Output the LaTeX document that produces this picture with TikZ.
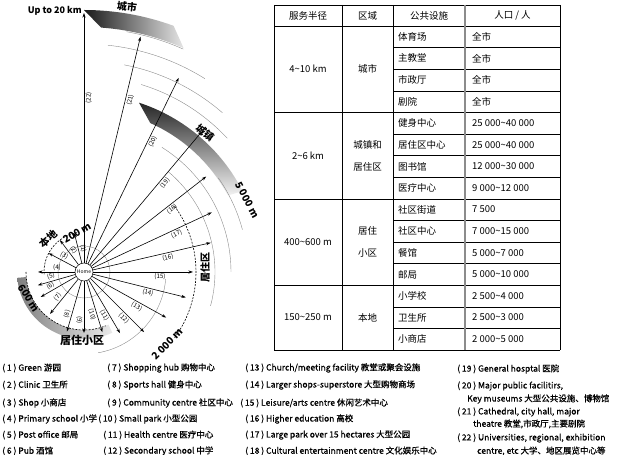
\documentclass[tikz,border=0pt]{standalone}
\usepackage{fontspec}
\setmainfont{Noto Sans CJK SC}
\newfontfamily\legendfont[FakeBold=0.7]{Noto Sans CJK SC}
\usetikzlibrary{arrows.meta,calc}

\tikzset{
  ray/.style={-{Stealth[length=4.5pt,width=3pt]},line width=0.6pt},
  raynum/.style={font=\fontsize{6.2}{7}\selectfont,inner sep=0pt},
  faint/.style={black!45,line width=0.4pt},
  edge/.style={dash pattern=on 2pt off 1.3pt,line width=0.6pt},
  zone/.style={font=\fontsize{10}{12}\selectfont\bfseries,inner sep=0pt},
  cell/.style={font=\fontsize{9.5}{11}\selectfont,inner sep=0pt},
  rule/.style={line width=0.5pt},
  legend/.style={font=\legendfont\fontsize{8.5}{10}\selectfont,anchor=west,inner sep=0pt}
}

\begin{document}
\begin{tikzpicture}[x=1pt,y=1pt]
\useasboundingbox (0,0) rectangle (625,455);
\coordinate (H) at (84,183);

% zone bands
\shade[left color=black!90,right color=black!10]
  ($(H)+(90:262)$) arc[start angle=90,end angle=70,radius=262]
  -- ($(H)+(66:245)$) arc[start angle=66,end angle=86,radius=245] -- cycle;
\shade[top color=black!85,bottom color=black!5]
  ($(H)+(72:178)$) arc[start angle=72,end angle=27,radius=178]
  -- ($(H)+(28:163)$) arc[start angle=28,end angle=66,radius=163] -- cycle;
\shade[top color=white,middle color=black!45,bottom color=white]
  ($(H)+(40:112)$) arc[start angle=40,end angle=-38,radius=112]
  -- ($(H)+(-38:99)$) arc[start angle=-38,end angle=40,radius=99] -- cycle;
\shade[left color=black!50,right color=black!8]
  ($(H)+(185:67)$) arc[start angle=185,end angle=295,radius=67]
  -- ($(H)+(295:58)$) arc[start angle=295,end angle=185,radius=58] -- cycle;

% dashed zone edges
\draw[edge] ($(H)+(36:112)$) arc[start angle=36,end angle=-36,radius=112];
\draw[edge] ($(H)+(180:58)$) arc[start angle=180,end angle=292,radius=58];
\draw[edge] ($(H)+(100:40)$) arc[start angle=100,end angle=185,radius=40];

% faint rings
\foreach \rad/\sa/\ea in {244/80/66,228/84/58,211/79/49,196/73/43,164/35/15,147/58/0,131/50/-15,82/-5/-80}
  \draw[faint] ($(H)+(\sa:\rad)$) arc[start angle=\sa,end angle=\ea,radius=\rad];
\draw[faint] (H) circle[radius=26];

\node[draw,circle,fill=white,minimum size=18pt,inner sep=0pt,line width=0.5pt,
  font=\fontsize{5}{5}\selectfont] (home) at (H) {Home};

% rays: number/angle/length/label distance/label rotation
\foreach \n/\ang/\len/\dis/\rot in {
  22/90/259/174/90, 21/76.5/242/178/76.5, 20/64/216/147/64, 19/50/183/120/50,
  18/38/155/108/38, 17/25/141/100/25, 16/13/130/85/13, 15/0/109/76/0,
  14/-14/105/67/-14, 13/-29/94/63/-29, 12/-45/85/61/-45, 11/-59.5/71/48/-59.5,
  10/-73/63/43/-73, 9/-90/61/48/-90, 8/-106/62/45/74, 7/231/54/36/51,
  6/210/50/36/30, 5/196/48/33/16, 4/180/46/27/0, 3/152/40/25/-28,
  2/127/40/24/-53, 1/104/40/23/-76}{
  \coordinate (r\n) at ($(H)+(\ang:\len)$);
  \draw[ray] (home) -- (r\n);
  \node[raynum,rotate=\rot] (n\n) at ($(H)+(\ang:\dis)+(\ang-90:4.8)$) {(\n)};
}

% zone labels
\node[font=\fontsize{9}{10}\selectfont\bfseries,anchor=east,inner sep=0pt] (far) at (82,444) {Up to 20 km};
\node[zone,rotate=-6] (city) at (127,448) {城市};
\node[zone,rotate=-40] (town) at (205,322) {城镇};
\node[zone,rotate=-62] (d5000) at (247,255) {5 000 m};
\node[zone,rotate=90] (dist) at (205,187) {居住区};
\node[zone,rotate=45] (d2000) at (167,111) {2 000 m};
\node[zone,rotate=40] (local) at (48,216) {本地};
\node[zone,rotate=30] (d200) at (77,222) {200 m};
\node[zone,rotate=-58] (d600) at (29,157) {600 m};
\node[zone,font=\fontsize{11}{12}\selectfont\bfseries] (nbhd) at (82,115) {居住小区};

% table
\draw[rule] (274,450) -- (560,450) (274,429) -- (560,429);
\foreach \k in {4,8,12,15}
  \draw[rule] (274,429-21.6*\k) -- (560,429-21.6*\k);
\foreach \k in {1,2,3,5,6,7,9,10,11,13,14}
  \draw[rule] (393,429-21.6*\k) -- (560,429-21.6*\k);
\foreach \x in {274,342,393,560}
  \draw[rule] (\x,450) -- (\x,105);
\draw[black!45,line width=1.2pt] (465,450) -- (465,105);

\node[cell] (h1) at (308,439.5) {服务半径};
\node[cell] (h2) at (367.5,439.5) {区域};
\node[cell] (h3) at (429,439.5) {公共设施};
\node[cell] (h4) at (512.5,439.5) {人口 / 人};

\node[cell] (g1) at (308,385.8) {4\textasciitilde10 km};
\node[cell] (g2) at (308,299.4) {2\textasciitilde6 km};
\node[cell] (g3) at (308,213) {400\textasciitilde600 m};
\node[cell] (g4) at (308,137.4) {150\textasciitilde250 m};
\node[cell] (z1) at (367.5,385.8) {城市};
\node[cell,align=center,font=\fontsize{9.5}{22}\selectfont] (z2) at (367.5,299.4) {城镇和\\居住区};
\node[cell,align=center,font=\fontsize{9.5}{22}\selectfont] (z3) at (367.5,213) {居住\\小区};
\node[cell] (z4) at (367.5,137.4) {本地};

\foreach \k/\fac/\pop in {1/体育场/全市, 2/主教堂/全市, 3/市政厅/全市, 4/剧院/全市,
  5/健身中心/25 000\textasciitilde40 000, 6/居住区中心/25 000\textasciitilde40 000,
  7/图书馆/12 000\textasciitilde30 000, 8/医疗中心/9 000\textasciitilde12 000,
  9/社区街道/7 500, 10/社区中心/7 000\textasciitilde15 000,
  11/餐馆/5 000\textasciitilde7 000, 12/邮局/5 000\textasciitilde10 000,
  13/小学校/2 500\textasciitilde4 000, 14/卫生所/2 500\textasciitilde3 000,
  15/小商店/2 000\textasciitilde5 000}{
  \node[cell,anchor=west] (f\k) at (398,429-21.6*\k+10.8) {\fac};
  \node[cell,anchor=west] (p\k) at (472,429-21.6*\k+10.8) {\pop};
}

% legend
\node[legend] (l1) at (2,87) {( 1 ) Green 游园};
\node[legend] (l2) at (2,70) {( 2 ) Clinic 卫生所};
\node[legend] (l3) at (2,52) {( 3 ) Shop 小商店};
\node[legend] (l4) at (2,36) {( 4 ) Primary school 小学};
\node[legend] (l5) at (2,20) {( 5 ) Post office 邮局};
\node[legend] (l6) at (2,4) {( 6 ) Pub 酒馆};
\node[legend] (l7) at (107,87) {( 7 ) Shopping hub 购物中心};
\node[legend] (l8) at (107,70) {( 8 ) Sports hall 健身中心};
\node[legend] (l9) at (107,52) {( 9 ) Community centre 社区中心};
\node[legend] (l10) at (98,36) {( 10 ) Small park 小型公园};
\node[legend] (l11) at (103,20) {( 11 ) Health centre 医疗中心};
\node[legend] (l12) at (103,4) {( 12 ) Secondary school 中学};
\node[legend] (l13) at (245,87) {( 13 ) Church/meeting facility 教堂或聚会设施};
\node[legend] (l14) at (245,70) {( 14 ) Larger shops-superstore 大型购物商场};
\node[legend] (l15) at (240,52) {( 15 ) Leisure/arts centre 休闲艺术中心};
\node[legend] (l16) at (245,36) {( 16 ) Higher education 高校};
\node[legend] (l17) at (245,20) {( 17 ) Large park over 15 hectares 大型公园};
\node[legend] (l18) at (245,4) {( 18 ) Cultural entertainment centre 文化娱乐中心};
\node[legend] (l19) at (457,86) {( 19 ) General hosptal 医院};
\node[legend] (l20) at (457,69) {( 20 ) Major public facilitirs,};
\node[legend] (l20b) at (467,56) {Key museums 大型公共设施、博物馆};
\node[legend] (l21) at (457,43) {( 21 ) Cathedral, city hall, major};
\node[legend] (l21b) at (473,31) {theatre 教堂,市政厅,主要剧院};
\node[legend] (l22) at (457,17) {( 22 ) Universities, regional, exhibition};
\node[legend] (l22b) at (477,4) {centre, etc 大学、地区展览中心等};
\end{tikzpicture}
\end{document}
